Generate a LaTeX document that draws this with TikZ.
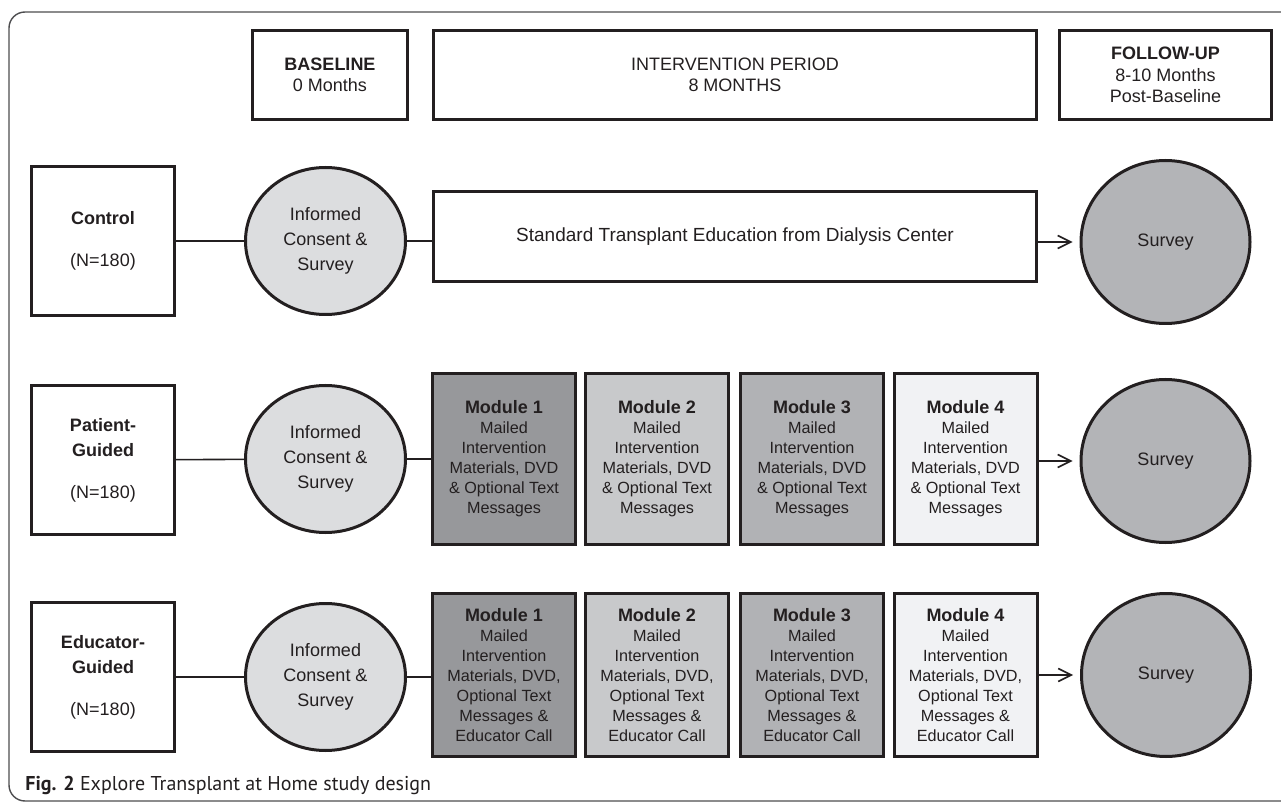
\documentclass[tikz,border=0pt]{standalone}
\usepackage{fontspec}
\setmainfont{Liberation Sans}
\newfontfamily\capfont{PT Sans}
\usetikzlibrary{arrows.meta,shapes.geometric}
\definecolor{consgray}{HTML}{DCDDDF}
\definecolor{survgray}{HTML}{B3B4B7}
\definecolor{modone}{HTML}{97989B}
\definecolor{modtwo}{HTML}{C8C9CB}
\definecolor{modthree}{HTML}{B1B2B5}
\definecolor{modfour}{HTML}{F1F2F4}
\definecolor{txtgray}{HTML}{231F20}
\definecolor{framegray}{HTML}{4D4D4F}
\begin{document}
\begin{tikzpicture}[x=0.5pt,y=-0.5pt,
    box/.style={draw=txtgray, text=txtgray, line width=1.5pt, inner sep=0pt, align=center,
        font=\fontsize{9}{10.75}\selectfont},
    group/.style={box, minimum width=71.5pt, minimum height=74.5pt, font=\fontsize{9}{12.5}\selectfont},
    consent/.style={box, ellipse, fill=consgray, minimum width=80pt, minimum height=73.5pt,
        font=\fontsize{9}{12.5}\selectfont},
    survey/.style={box, ellipse, fill=survgray, minimum width=84.5pt, minimum height=81.5pt},
    module/.style={box, minimum width=71.5pt, font=\fontsize{8.1}{10}\selectfont},
    link/.style={draw=txtgray, line width=0.8pt},
    arrow/.style={link, -{Straight Barb[length=6.5pt,width=6.5pt]}, shorten >=3.5pt}]
    \useasboundingbox (0,0) rectangle (1281,802);
    % frame
    \draw [framegray, line width=0.7pt, rounded corners=8pt] (1300,12) -- (9,12) -- (9,801) -- (1300,801);
    % periods
    \node [box, minimum width=77.5pt, minimum height=44.5pt] (base) at (330,75) {\textbf{BASELINE}\\0 Months};
    \node [box, minimum width=301.5pt, minimum height=44.5pt] (period) at (735,75) {INTERVENTION PERIOD\\8 MONTHS};
    \node [box, minimum width=106pt, minimum height=44.5pt] (follow) at (1165.5,75) {\textbf{FOLLOW-UP}\\8-10 Months\\Post-Baseline};
    % control arm
    \node [group] (control) at (103,241) {\textbf{Control}\\[8.5pt](N=180)};
    \node [consent] (cons1) at (325.5,241) {Informed\\Consent \&\\Survey};
    \node [box, minimum width=301.5pt, minimum height=45pt, font=\fontsize{9.5}{11}\selectfont] (std) at (735,236.5) {Standard Transplant Education from Dialysis Center};
    \node [survey] (surv1) at (1165.5,242) {Survey};
    \draw [link] (control) -- (cons1);
    \draw [link] (cons1) -- (cons1 -| std.west);
    \draw [arrow] (surv1 -| std.east) -- (surv1);
    % patient-guided arm
    \node [group] (patient) at (103,460) {\textbf{Patient-}\\\textbf{Guided}\\[8.5pt](N=180)};
    \node [consent] (cons2) at (325.5,459) {Informed\\Consent \&\\Survey};
    \foreach \i/\x/\c in {1/504/modone,2/657/modtwo,3/812/modthree,4/965.5/modfour}
        \node [module, fill=\c, minimum height=85.5pt] (pm\i) at (\x,459)
            {\textbf{\fontsize{9}{10}\selectfont Module \i}\\Mailed\\Intervention\\Materials, DVD\\\& Optional Text\\Messages};
    \node [survey] (surv2) at (1165.5,461) {Survey};
    \draw [link] (patient) -- (cons2);
    \draw [link] (cons2) -- (cons2 -| pm1.west);
    \draw [arrow] (surv2 -| pm4.east) -- (surv2);
    % educator-guided arm
    \node [group] (educator) at (103,677) {\textbf{Educator-}\\\textbf{Guided}\\[8.5pt](N=180)};
    \node [consent] (cons3) at (325.5,677) {Informed\\Consent \&\\Survey};
    \foreach \i/\x/\c in {1/504/modone,2/657/modtwo,3/812/modthree,4/965.5/modfour}
        \node [module, fill=\c, minimum height=81.5pt] (em\i) at (\x,675)
            {\textbf{\fontsize{9}{10}\selectfont Module \i}\\Mailed\\Intervention\\Materials, DVD,\\Optional Text\\Messages \&\\Educator Call};
    \node [survey] (surv3) at (1166,675) {Survey};
    \draw [link] (educator) -- (cons3);
    \draw [link] (cons3) -- (cons3 -| em1.west);
    \draw [arrow] (surv3 -| em4.east) -- (surv3);
    % caption
    \node [anchor=base west, inner sep=0pt, text=txtgray, font=\capfont\fontsize{10}{12}\selectfont] (caption) at (25,790)
        {\textbf{Fig. 2} Explore Transplant at Home study design};
\end{tikzpicture}
\end{document}
